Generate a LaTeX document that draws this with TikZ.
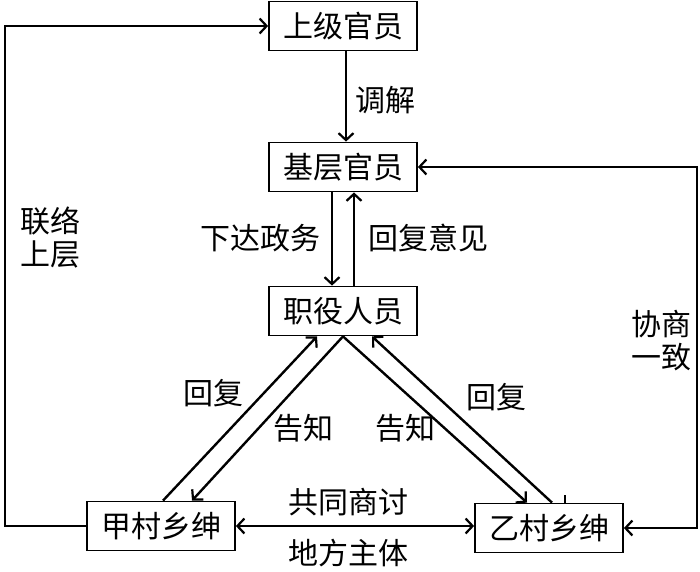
\documentclass[tikz,border=0pt]{standalone}
\usepackage{fontspec}
\setmainfont{Noto Sans CJK SC}
\usetikzlibrary{arrows.meta, positioning}

\begin{document}
\begin{tikzpicture}[x=1pt, y=-1pt, font=\fontsize{30}{33}\selectfont]
\tikzstyle{box} = [rectangle, minimum width=148pt, minimum height=49pt, inner sep=0pt, text centered, draw=black, line width=1.8pt]
\tikzstyle{arrow} = [line width=2.4pt, -{Straight Barb[length=7pt, width=15pt, line width=2.2pt]}]
\tikzstyle{twoway} = [line width=2.4pt, {Straight Barb[length=7pt, width=15pt, line width=2.2pt]}-{Straight Barb[length=7pt, width=15pt, line width=2.2pt]}]
\tikzstyle{note} = [inner sep=0pt, align=center]

\useasboundingbox (0,0) rectangle (700,571);

\node (upper) [box] at (343,26) {上级官员};
\node (grass) [box] at (343,167) {基层官员};
\node (clerk) [box] at (343,311) {职役人员};
\node (jia) [box] at (161,526) {甲村乡绅};
\node (yi) [box] at (549,528) {乙村乡绅};

\coordinate (leftrail) at (5,0);
\coordinate (rightrail) at (697,0);

\draw [arrow] ([xshift=3pt]upper.south) -- ([xshift=3pt]grass.north);
\draw [arrow] ([xshift=-11pt]grass.south) -- ([xshift=-11pt]clerk.north);
\draw [arrow] ([xshift=11pt]clerk.north) -- ([xshift=11pt]grass.south);

\draw [arrow] (clerk.south) -- ([xshift=31pt]jia.north);
\draw [arrow] ([xshift=2pt]jia.north) -- ([xshift=-26pt]clerk.south);
\draw [arrow] (clerk.south) -- ([xshift=-22pt]yi.north);
\draw [arrow] ([xshift=3pt]yi.north) -- ([xshift=29pt]clerk.south);
\draw [line width=1.4pt] ([xshift=16pt]yi.north) -- ([xshift=16pt, yshift=8pt]yi.north);

\draw [twoway] (jia.east) -- (jia.east -| yi.west);
\draw [arrow] (jia.west) -- (jia.west -| leftrail) |- (upper.west);
\draw [twoway] (yi.east) -- (yi.east -| rightrail) |- (grass.east);

\node (mediate) [note] at (385,100) {调解};
\node (assign) [note] at (260,238) {下达政务};
\node (feedback) [note] at (428,238) {回复意见};
\node (contact) [note] at (50,238) {联络\\上层};
\node (agree) [note] at (661,341) {协商\\一致};
\node (replyl) [note] at (213,393) {回复};
\node (informl) [note] at (303,428) {告知};
\node (informr) [note] at (405,428) {告知};
\node (replyr) [note] at (496,397) {回复};
\node (discuss) [note] at (348,502) {共同商讨};
\node (local) [note] at (348,553) {地方主体};
\end{tikzpicture}
\end{document}
